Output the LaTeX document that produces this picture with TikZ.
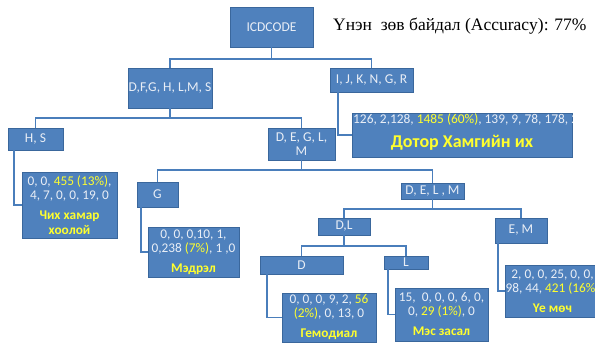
\documentclass[tikz,border=0pt]{standalone}
\usepackage{fontspec}
\usetikzlibrary{calc}
\setmainfont{Carlito}
\newfontfamily\timesfont{Liberation Serif}
\definecolor{boxblue}{HTML}{4F81BD}
\definecolor{boxedge}{HTML}{3A679C}
\definecolor{linkblue}{HTML}{4A7EBB}
\definecolor{hilite}{HTML}{FFFF2E}
\definecolor{numtxt}{HTML}{E9EEF6}
\newcommand{\hl}[1]{\textcolor{hilite}{#1}}
\newcommand{\lbl}[1]{{\bfseries\color{hilite}#1}}
\tikzset{
  cell/.style={fill=boxblue, draw=boxedge, line width=0.6pt, text=numtxt,
    inner sep=0pt, align=center, font=\fontsize{13.5}{14}\selectfont},
  leaf/.style={cell, font=\fontsize{13.3}{14}\selectfont},
  link/.style={draw=linkblue, line width=1.7pt},
}
\begin{document}
\begin{tikzpicture}[x=1pt,y=-1pt]
\useasboundingbox (0,0) rectangle (595,347);

% split nodes
\node[cell, minimum width=83pt, minimum height=40pt] (root) at (271.5,27) {ICDCODE};
\node[cell, minimum width=84pt, minimum height=40pt] (dfg) at (170,88) {D,F,G, H, L,M, S};
\node[cell, minimum width=83pt, minimum height=24pt] (ijk) at (371.5,80) {I, J, K, N, G, R};
\node[cell, minimum width=55pt, minimum height=22pt] (hs) at (35.5,139) {H, S};
\node[cell, minimum width=67pt, minimum height=32pt] (deglm) at (301.5,144) {D, E, G, L,\\M};
\node[cell, minimum width=41pt, minimum height=25pt] (g) at (157.5,194.5) {G};
\node[cell, minimum width=63pt, minimum height=16pt] (delm) at (432.5,191) {D, E, L , M};
\node[cell, minimum width=52pt, minimum height=17pt] (dl) at (344,226.5) {D,L};
\node[cell, minimum width=52pt, minimum height=25pt] (em) at (521,230.5) {E, M};
\node[cell, minimum width=83pt, minimum height=18pt] (d) at (301.5,265) {D};
\node[cell, minimum width=44pt, minimum height=13pt] (l) at (406,262.5) {L};

% leaf nodes with class counts
\node[leaf, minimum width=95pt, minimum height=66pt] (hsr) at (69.5,205)
  {0, 0, \hl{455 (13\%)},\\4, 7, 0, 0, 19, 0\\[6pt]\lbl{Чих хамар}\\[1pt]\lbl{хоолой}};
\node[leaf, minimum width=91pt, minimum height=50pt] (gr) at (193.5,252)
  {0, 0, 0,10, 1,\\0,238 \hl{(7\%)}, 1 ,0\\[6pt]\lbl{Мэдрэл}};
\node[leaf, minimum width=94pt, minimum height=49pt] (dr) at (329,317.5)
  {0, 0, 0, 9, 2, \hl{56}\\\hl{(2\%)}, 0, 13, 0\\[6pt]\lbl{Гемодиал}};
\node[leaf, minimum width=93pt, minimum height=53pt] (lr) at (441.5,314.5)
  {15,\ \ 0, 0, 0, 6, 0,\\0, \hl{29 (1\%)}, 0\\[6pt]\lbl{Мэс засал}};
\node[leaf, minimum width=89pt, minimum height=52pt] (emr) at (552.5,291)
  {2, 0, 0, 25, 0, 0,\\98, 44, \hl{421 (16\%)}\\[6pt]\lbl{Үе мөч}};
\node[cell, minimum width=220pt, minimum height=44pt] (ijkr) at (462,135) {};
\begin{scope}
  \clip (ijkr.south west) rectangle (ijkr.north east);
  \node[anchor=base west, text=numtxt, inner sep=0pt, font=\fontsize{13.4}{14}\selectfont] (ijkt) at (353,124)
    {126, 2,128, \hl{1485 (60\%)}, 139, 9, 78, 178, 206};
\end{scope}
\node[anchor=center, inner sep=0pt, font=\fontsize{18}{19}\selectfont\bfseries, text=hilite] (ijkl) at (462,143) {Дотор Хамгийн их};

% accuracy caption
\node[anchor=base west, inner sep=0pt, font=\timesfont\fontsize{17.5}{19}\selectfont] (acc) at (333,30.5)
  {Үнэн\ \ зөв байдал (Accuracy): 77\%};

% branches
\coordinate (j1) at ($(root.south)+(0,12)$);
\draw[link] (root.south) -- (j1);
\draw[link] (dfg.north) |- (j1) -| (ijk.north);

\coordinate (j2) at (170,118);
\draw[link] (dfg.south) -- (j2);
\draw[link] (hs.north) |- (j2) -| (deglm.north);

\coordinate (j3) at (301.5,170);
\draw[link] (deglm.south) -- (j3);
\draw[link] (g.north) |- (j3) -| (delm.north);

\coordinate (j4) at (432.5,209);
\draw[link] (delm.south) -- (j4);
\draw[link] (dl.north) |- (j4) -| (em.north);

\coordinate (j5) at (344,246);
\draw[link] (dl.south) -- (j5);
\draw[link] (d.north) |- (j5) -| (l.north);

% leaf links
\draw[link] ([xshift=6pt]hs.south west) |- (hsr.west);
\draw[link] ([xshift=8pt]ijk.south west) |- (ijkr.west);
\draw[link] ([xshift=4pt]g.south west) |- (gr.west);
\draw[link] ([xshift=7pt]d.south west) |- (dr.west);
\draw[link] ([xshift=4pt]l.south west) |- (lr.west);
\draw[link] ([xshift=3pt]em.south west) |- (emr.west);
\end{tikzpicture}
\end{document}
